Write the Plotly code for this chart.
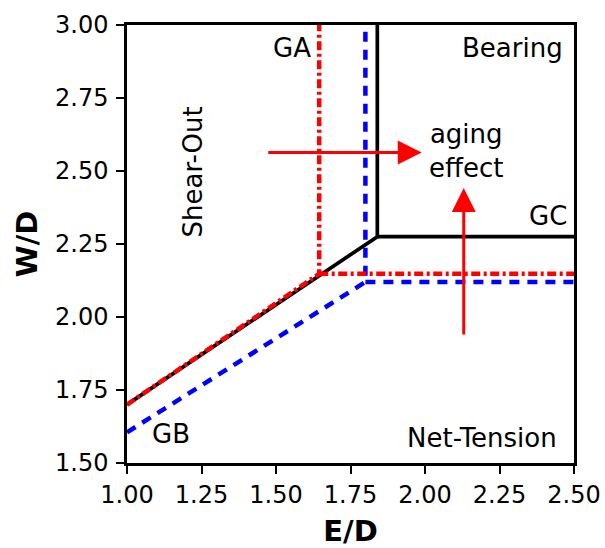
import plotly.graph_objects as go

# Boundary curves (E/D, W/D)
gc_x = [1.0, 1.84, 1.84, None, 1.84, 2.5]
gc_y = [1.70, 2.275, 3.0, None, 2.275, 2.275]

gb_x = [1.0, 1.80, 1.80, None, 1.80, 2.5]
gb_y = [1.605, 2.12, 3.0, None, 2.12, 2.12]

ga_x = [1.0, 1.645, 1.645, None, 1.645, 2.5]
ga_y = [1.70, 2.148, 3.0, None, 2.148, 2.148]

x_ticks = [1.00, 1.25, 1.50, 1.75, 2.00, 2.25, 2.50]
y_ticks = [1.50, 1.75, 2.00, 2.25, 2.50, 2.75, 3.00]

# Labels: (text, x, y, angle)
labels = [
    ("GA", 1.552, 2.92, 0),
    ("Bearing", 2.294, 2.92, 0),
    ("aging<br>effect", 2.137, 2.567, 0),
    ("GC", 2.413, 2.346, 0),
    ("GB", 1.146, 1.60, 0),
    ("Net-Tension", 2.191, 1.586, 0),
    ("Shear-Out", 1.22, 2.497, -90),
]

# Arrows: (tail_x, tail_y, tip_x, tip_y)
arrows = [
    (1.469, 2.563, 1.989, 2.563),
    (2.13, 1.935, 2.13, 2.442),
]

FONT = "DejaVu Sans"

fig = go.Figure()
fig.add_trace(go.Scatter(x=gb_x, y=gb_y, mode="lines",
                         line=dict(color="#0000ff", width=4.5, dash="10px,8px"),
                         showlegend=False, hoverinfo="skip"))
fig.add_trace(go.Scatter(x=gc_x, y=gc_y, mode="lines",
                         line=dict(color="black", width=3.7),
                         showlegend=False, hoverinfo="skip"))
fig.add_trace(go.Scatter(x=ga_x, y=ga_y, mode="lines",
                         line=dict(color="#ff0000", width=4.5, dash="9px,3.5px,3px,3.5px"),
                         showlegend=False, hoverinfo="skip"))

for t, x, y, ang in labels:
    fig.add_annotation(x=x, y=y, xref="x", yref="y", text=t, showarrow=False,
                       textangle=ang, font=dict(family=FONT, size=26, color="black"),
                       xanchor="center", yanchor="middle")

for tx, ty, hx, hy in arrows:
    fig.add_annotation(x=hx, y=hy, ax=tx, ay=ty, xref="x", yref="y",
                       axref="x", ayref="y", text="", showarrow=True,
                       arrowhead=2, arrowsize=1.6, arrowwidth=3, arrowcolor="#ff0000")

axis_common = dict(showline=True, linecolor="black", linewidth=2.5, mirror=True,
                   ticks="outside", ticklen=8, tickwidth=2, tickcolor="black",
                   showgrid=False, zeroline=False, automargin=False,
                   tickfont=dict(family=FONT, size=24, color="black"))

fig.update_xaxes(range=[1.0, 2.5], tickvals=x_ticks,
                 ticktext=[f"{v:.2f}" for v in x_ticks],
                 title=dict(text="<b>E/D</b>", font=dict(family=FONT, size=29, color="black"), standoff=17),
                 **axis_common)
fig.update_yaxes(range=[1.5, 3.0], tickvals=y_ticks,
                 ticktext=[f"{v:.2f}" for v in y_ticks], ticklabelstandoff=3,
                 title=dict(text="<b>W/D</b>", font=dict(family=FONT, size=29, color="black"), standoff=9),
                 **axis_common)

fig.update_layout(template="none", width=605, height=548,
                  margin=dict(l=127, r=31, t=25, b=85),
                  plot_bgcolor="white", paper_bgcolor="white",
                  font=dict(family=FONT))

fig.write_html("out.html")
